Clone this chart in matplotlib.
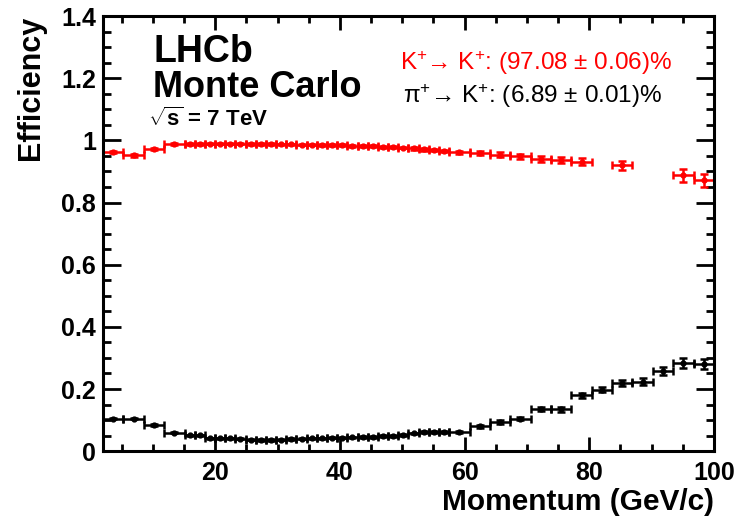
import numpy as np
import matplotlib
matplotlib.use("Agg")
import matplotlib.pyplot as plt
from matplotlib.ticker import MultipleLocator, FormatStrFormatter

plt.rcParams['font.family'] = ['Liberation Sans', 'DejaVu Sans']
plt.rcParams['mathtext.fontset'] = 'custom'
plt.rcParams['mathtext.rm'] = 'Liberation Sans'
plt.rcParams['mathtext.it'] = 'Liberation Sans:italic'
plt.rcParams['mathtext.bf'] = 'Liberation Sans:bold'

# momentum bin edges (GeV/c)
edges = np.array([2.0, 5.27, 8.53, 11.8, 15.07,
                  16.7, 18.33, 19.97, 21.6, 23.23, 24.87, 26.5, 28.13, 29.77, 31.4,
                  33.03, 34.67, 36.3, 37.93, 39.57, 41.2, 42.83, 44.47, 46.1, 47.73,
                  49.37, 51.0, 52.63, 54.27, 55.9, 57.53,
                  60.8, 64.07, 67.33, 70.6, 73.87, 77.13, 80.4, 83.67, 86.93, 90.2,
                  93.47, 96.73, 100.0])

# K -> K efficiency
eff_k = np.array([0.962, 0.952, 0.973, 0.987,
                  0.988, 0.988, 0.989, 0.989, 0.989, 0.989, 0.988, 0.988, 0.988, 0.987,
                  0.987, 0.986, 0.986, 0.985, 0.985, 0.984, 0.983, 0.982, 0.981, 0.980,
                  0.979, 0.977, 0.974, 0.971, 0.969, 0.966,
                  0.962, 0.959, 0.954, 0.949, 0.941, 0.936, 0.932, np.nan, 0.920, np.nan,
                  np.nan, 0.887, 0.871])
err_k = np.array([0.004, 0.004, 0.004, 0.003,
                  0.002, 0.002, 0.002, 0.002, 0.002, 0.002, 0.002, 0.002, 0.002, 0.002,
                  0.002, 0.002, 0.002, 0.002, 0.002, 0.003, 0.003, 0.003, 0.003, 0.003,
                  0.003, 0.003, 0.004, 0.004, 0.004, 0.004,
                  0.005, 0.006, 0.007, 0.008, 0.009, 0.010, 0.011, np.nan, 0.014, np.nan,
                  np.nan, 0.020, 0.022])

# pi -> K misidentification
eff_pi = np.array([0.105, 0.105, 0.084, 0.059,
                   0.051, 0.051, 0.041, 0.041, 0.041, 0.040, 0.037, 0.036, 0.036, 0.037,
                   0.039, 0.040, 0.041, 0.042, 0.043, 0.043, 0.045, 0.046, 0.046, 0.048,
                   0.049, 0.051, 0.057, 0.061, 0.062, 0.062,
                   0.062, 0.080, 0.094, 0.105, 0.135, 0.135, 0.180, 0.198, 0.220, 0.223,
                   0.258, 0.284, 0.280])
err_pi = np.array([0.003, 0.003, 0.003, 0.002,
                   0.002, 0.002, 0.002, 0.002, 0.002, 0.002, 0.002, 0.002, 0.002, 0.002,
                   0.002, 0.002, 0.002, 0.002, 0.002, 0.002, 0.002, 0.002, 0.002, 0.003,
                   0.003, 0.003, 0.003, 0.003, 0.003, 0.003,
                   0.004, 0.005, 0.006, 0.006, 0.007, 0.008, 0.008, 0.009, 0.010, 0.011,
                   0.013, 0.015, 0.015])

centers = 0.5 * (edges[1:] + edges[:-1])
halfw = 0.5 * (edges[1:] - edges[:-1])

fig = plt.figure(figsize=(7.36, 5.18), dpi=100)
ax = fig.add_axes([0.140, 0.129, 0.830, 0.840])

ax.errorbar(centers, eff_k, xerr=halfw, yerr=err_k, fmt='o', color='#ff0000',
            markersize=3.5, elinewidth=1.8, capsize=3.2, capthick=1.8)
ax.errorbar(centers, eff_pi, xerr=halfw, yerr=err_pi, fmt='o', color='black',
            markersize=3.5, elinewidth=1.8, capsize=3.2, capthick=1.8)

ax.set_xlim(2, 100)
ax.set_ylim(0, 1.4)
ax.xaxis.set_major_locator(MultipleLocator(20))
ax.xaxis.set_minor_locator(MultipleLocator(5))
ax.yaxis.set_major_locator(MultipleLocator(0.2))
ax.yaxis.set_minor_locator(MultipleLocator(0.05))
ax.yaxis.set_major_formatter(FormatStrFormatter('%g'))

ax.tick_params(which='both', direction='in', top=True, right=True, width=2)
ax.tick_params(axis='x', which='major', length=10, pad=7)
ax.tick_params(axis='x', which='minor', length=5)
ax.tick_params(axis='y', which='major', length=13, pad=5)
ax.tick_params(axis='y', which='minor', length=6)
for lab in ax.get_xticklabels() + ax.get_yticklabels():
    lab.set_fontsize(18)
    lab.set_fontweight('bold')
for sp in ax.spines.values():
    sp.set_linewidth(2.2)

ax.set_xlabel('Momentum (GeV/c)', fontsize=21.5, fontweight='bold', loc='right')
ax.xaxis.set_label_coords(1.0, -0.085)
ax.set_ylabel('Efficiency', fontsize=22, fontweight='bold', loc='top')
ax.yaxis.set_label_coords(-0.093, 1.0)

ax.text(0.082, 0.894, 'LHCb', transform=ax.transAxes, fontsize=27,
        fontweight='bold', va='baseline')
ax.text(0.082, 0.814, 'Monte Carlo', transform=ax.transAxes, fontsize=26,
        fontweight='bold', va='baseline')
ax.text(0.074, 0.747, r'$\mathbf{\sqrt{s}}$ = 7 TeV', transform=ax.transAxes,
        fontsize=16, fontweight='bold', va='baseline')

ax.text(0.486, 0.876, 'K$^{+}$\u2192 K$^{+}$: (97.08 \u00b1 0.06)%',
        transform=ax.transAxes, fontsize=17.5, color='#ff0000', va='baseline')
ax.text(0.491, 0.800, '\u03c0$^{+}$\u2192 K$^{+}$: (6.89 \u00b1 0.01)%',
        transform=ax.transAxes, fontsize=17.5, color='black', va='baseline')

fig.savefig('out.png', dpi=100)
